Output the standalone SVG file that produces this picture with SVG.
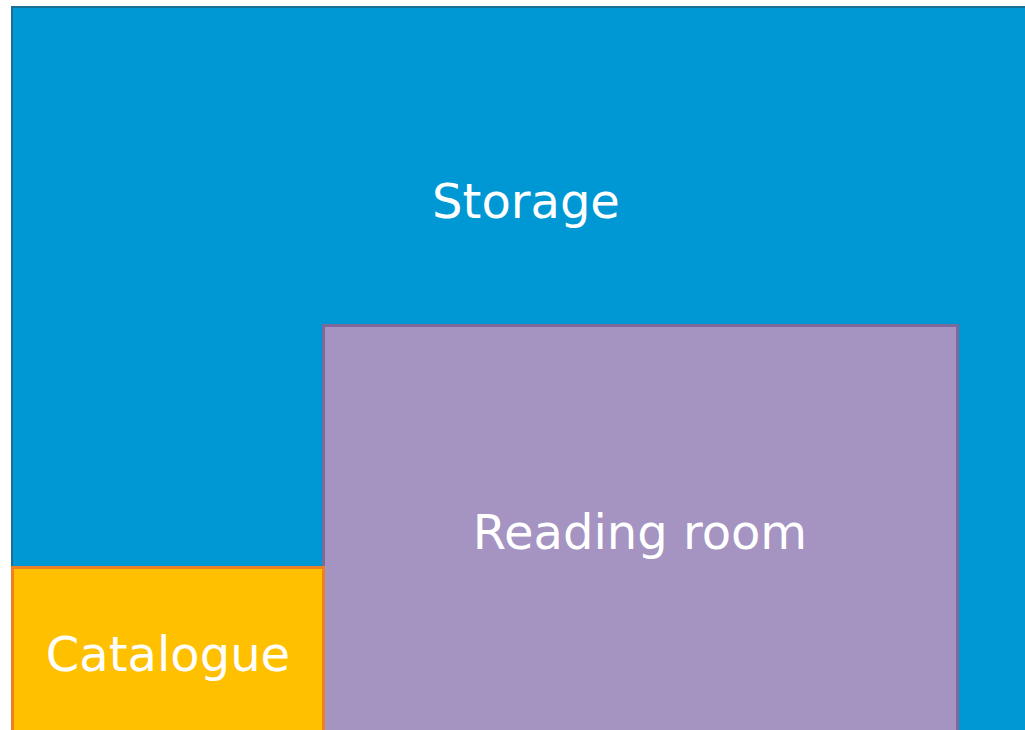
<svg xmlns="http://www.w3.org/2000/svg" width="1025" height="730" viewBox="0 0 1025 730">
<style>
.lbl{font-family:"DejaVu Sans",Verdana,sans-serif;font-size:48px;fill:#ffffff;text-anchor:middle}
</style>
<rect x="0" y="0" width="1025" height="730" fill="#ffffff"/>
<g id="storage">
<rect x="12" y="7" width="1040" height="760" fill="#0098D4" stroke="#1B6F95" stroke-width="2"/>
<text class="lbl" x="526" y="218">Storage</text>
</g>
<g id="reading-room">
<rect x="323.5" y="325.5" width="634" height="420" fill="#A593C1" stroke="#7E6A9A" stroke-width="3"/>
<text class="lbl" x="640" y="549">Reading room</text>
</g>
<g id="catalogue">
<rect x="12.5" y="567.5" width="311" height="180" fill="#FFC000" stroke="#EE7F22" stroke-width="3"/>
<text class="lbl" x="168" y="671">Catalogue</text>
</g>
<g id="connectors"></g>
</svg>
